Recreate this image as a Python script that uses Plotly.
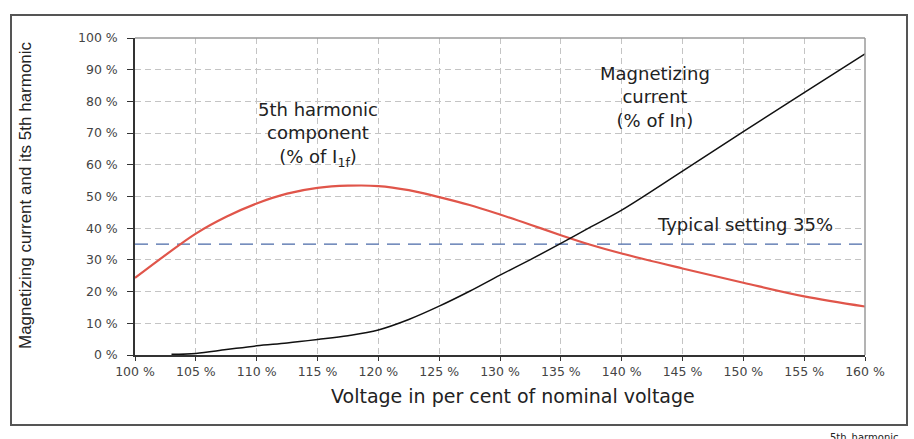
import plotly.graph_objects as go

# ---- data ----
harm_x = [100, 102.5, 105, 107.5, 110, 112.5, 115, 117.5, 120, 122.5, 125, 127.5, 130, 132.5, 135, 137.5, 140, 145, 150, 155, 160]
harm_y = [24.3, 31.5, 38.3, 43.6, 47.8, 50.9, 52.7, 53.4, 53.3, 52.0, 49.8, 47.3, 44.3, 41.1, 37.8, 34.7, 32.0, 27.3, 22.8, 18.5, 15.3]

mag_x = [103, 105, 107.5, 110, 112.5, 115, 117.5, 120, 122.5, 125, 127.5, 130, 132.5, 135, 137.5, 140, 145, 150, 155, 160]
mag_y = [0.2, 0.5, 1.7, 2.9, 3.8, 4.9, 6.1, 7.9, 11.2, 15.4, 20.1, 25.2, 30.1, 35.2, 40.5, 45.7, 58.0, 70.5, 82.8, 95.0]

setting_x = [100, 160]
setting_y = [35, 35]

x_ticks = list(range(100, 161, 5))
y_ticks = list(range(0, 101, 10))

FONT = "DejaVu Sans, Liberation Sans, sans-serif"
NARROW = "Liberation Sans Narrow, Arial Narrow, Liberation Sans, sans-serif"

fig = go.Figure()
fig.add_trace(go.Scatter(x=setting_x, y=setting_y, mode="lines",
                         line=dict(color="#4a6aa8", width=1.3, dash="13px,8px"),
                         hoverinfo="skip", showlegend=False))
fig.add_trace(go.Scatter(x=harm_x, y=harm_y, mode="lines", line_shape="spline",
                         line=dict(color="#e0554a", width=2.2), showlegend=False))
fig.add_trace(go.Scatter(x=mag_x, y=mag_y, mode="lines", line_shape="spline",
                         line=dict(color="#111111", width=1.5), showlegend=False))

grid = dict(showgrid=True, gridcolor="#c4c4c4", gridwidth=1, griddash="6px,4px")

fig.update_layout(
    width=914, height=439,
    margin=dict(l=135, r=49, t=38, b=84),
    paper_bgcolor="white", plot_bgcolor="white",
    font=dict(family=FONT, color="#333333"),
    xaxis=dict(range=[100, 160], tickvals=x_ticks,
               ticktext=[f"{v} %" for v in x_ticks],
               ticks="outside", ticklen=4, tickcolor="#333", tickwidth=1,
               showline=True, linecolor="#333", linewidth=1.5, mirror=False,
               tickfont=dict(size=12.5, color="#444"), zeroline=False, **grid),
    yaxis=dict(range=[0, 100], tickvals=y_ticks,
               ticktext=[f"{v} %" for v in y_ticks],
               ticks="outside", ticklen=6, tickcolor="#333", tickwidth=1,
               ticklabelstandoff=7,
               showline=True, linecolor="#333", linewidth=1.5,
               tickfont=dict(size=12.5, color="#444"), zeroline=False, **grid),
    shapes=[
        # light gray top/right border of plot area
        dict(type="line", xref="paper", yref="paper", x0=0, x1=1, y0=1, y1=1,
             line=dict(color="#9a9a9a", width=1.5)),
        dict(type="line", xref="paper", yref="paper", x0=1, x1=1, y0=0, y1=1,
             line=dict(color="#9a9a9a", width=1.5)),
        # outer frame
        dict(type="rect", xref="paper", yref="paper",
             x0=(11 - 135) / 730, x1=(907 - 135) / 730,
             y0=(355 - 425) / 317, y1=(355 - 15) / 317,
             line=dict(color="#555555", width=2), fillcolor="rgba(0,0,0,0)"),
    ],
    annotations=[
        dict(text="Magnetizing current and its 5th harmonic", textangle=-90,
             xref="paper", yref="paper", x=(25 - 135) / 730, y=(355 - 195) / 317,
             xanchor="center", yanchor="middle",
             showarrow=False, font=dict(family=NARROW, size=17, color="#222")),
        dict(text="Voltage in per cent of nominal voltage",
             xref="paper", yref="paper", x=(513 - 135) / 730, y=(355 - 396) / 317,
             xanchor="center", yanchor="middle",
             showarrow=False, font=dict(size=19, color="#222")),
        dict(text="5th harmonic<br>component<br>(% of I<sub>1f</sub>)",
             x=115.04, y=(355 - 134) / 3.173, showarrow=False,
             xanchor="center", yanchor="middle",
             font=dict(size=18, color="#222")),
        dict(text="Magnetizing<br>current<br>(% of In)",
             x=142.74, y=(355 - 97) / 3.173, showarrow=False,
             xanchor="center", yanchor="middle",
             font=dict(size=18, color="#222")),
        dict(text="Typical setting 35%",
             x=150.14, y=(355 - 224) / 3.173, showarrow=False,
             xanchor="center", yanchor="middle",
             font=dict(size=18, color="#222")),
        dict(text="5th_harmonic", xref="paper", yref="paper",
             x=(828 - 135) / 730, y=(355 - 430) / 317,
             xanchor="left", yanchor="top",
             showarrow=False, font=dict(size=10, color="#222")),
    ],
)

fig.write_html("out.html")
